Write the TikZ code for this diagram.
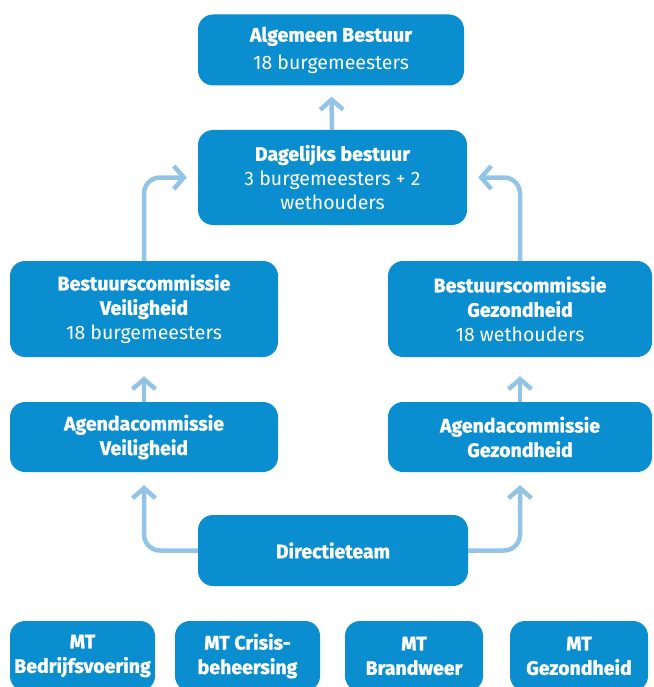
\documentclass[tikz,border=0pt]{standalone}
\usepackage{fontspec}
\setmainfont{Fira Sans}[BoldFeatures={FakeBold=1.2}]
\usepackage{tikz}
\usetikzlibrary{arrows.meta, positioning, calc}
\definecolor{boxblue}{HTML}{0B8ED0}
\definecolor{linkblue}{HTML}{93C4E6}
\tikzset{
  orgbox/.style={
    rectangle, rounded corners=15pt,
    inner sep=2pt, align=center,
    fill=boxblue, text=white,
    font=\fontsize{19.5}{24.5}\selectfont,
  },
  mtbox/.style={
    orgbox, minimum width=142pt, minimum height=70pt,
    font=\fontsize{19.5}{24.5}\selectfont\bfseries,
  },
  arrow/.style={-{Straight Barb[length=10pt,width=23pt,line width=4.5pt]},
    line width=4.5pt, color=linkblue},
}

\begin{document}
\begin{tikzpicture}[x=1pt, y=-1pt]
  \useasboundingbox (0,0) rectangle (653,687);

  % bestuur
  \node[orgbox, minimum width=266pt, minimum height=71pt] (alg) at (331,50)
    {\textbf{Algemeen Bestuur}\\[3pt]18 burgemeesters};
  \node[orgbox, minimum width=269pt, minimum height=95pt] (dag) at (332.5,177.5)
    {\textbf{Dagelijks bestuur}\\3 burgemeesters + 2\\wethouders};

  % commissies
  \node[orgbox, minimum width=268pt, minimum height=96pt] (bcV) at (144,309)
    {\textbf{Bestuurscommissie}\\\textbf{Veiligheid}\\18 burgemeesters};
  \node[orgbox, minimum width=264pt, minimum height=96pt] (bcG) at (520,309)
    {\textbf{Bestuurscommissie}\\\textbf{Gezondheid}\\18 wethouders};
  \node[orgbox, minimum width=268pt, minimum height=70pt] (acV) at (144,437)
    {\textbf{Agendacommissie}\\\textbf{Veiligheid}};
  \node[orgbox, minimum width=264pt, minimum height=70pt] (acG) at (520,437)
    {\textbf{Agendacommissie}\\\textbf{Gezondheid}};

  % directie
  \node[orgbox, minimum width=270pt, minimum height=71pt] (dir) at (333,550.5)
    {\textbf{Directieteam}};

  % MT's
  \node[mtbox, minimum width=145pt] (mtB) at (82.5,656) {MT\\Bedrijfsvoering};
  \node[mtbox, minimum width=145pt] (mtC) at (247.5,656) {MT Crisis-\\beheersing};
  \node[mtbox, minimum width=138pt] (mtW) at (414,656) {MT\\Brandweer};
  \node[mtbox, minimum width=138pt] (mtG) at (579,656) {MT\\Gezondheid};

  \draw[arrow, shorten >=11pt] (dag) -- (alg);
  \draw[arrow, rounded corners=16pt, shorten >=11pt] (bcV.north) |- (dag.west);
  \draw[arrow, rounded corners=16pt, shorten >=11pt] (bcG.north) |- (dag.east);
  \draw[arrow, shorten >=19pt] (acV) -- (bcV);
  \draw[arrow, shorten >=19pt] (acG) -- (bcG);
  \draw[arrow, rounded corners=16pt, shorten >=13pt] (dir.west) -| (acV.south);
  \draw[arrow, rounded corners=16pt, shorten >=13pt] (dir.east) -| (acG.south);

\end{tikzpicture}
\end{document}
